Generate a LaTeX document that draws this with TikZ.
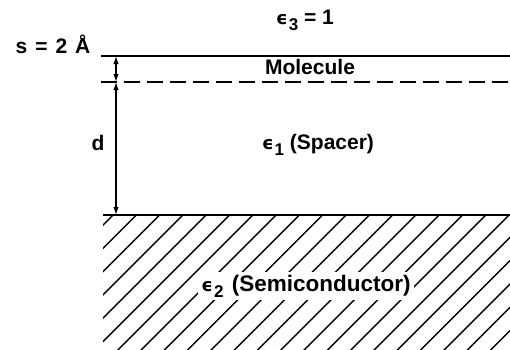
\documentclass[tikz,border=0pt]{standalone}
\usepackage{fontspec}
\setmainfont{Liberation Sans}
\newfontfamily\epsfont{DejaVu Sans}
\usetikzlibrary{arrows.meta}
\newcommand\epsi[1]{{\epsfont\fontsize{18}{18}\selectfont ϵ}\kern1pt\raisebox{-6pt}{\fontsize{17}{17}\selectfont #1}}
\tikzset{
  lbl/.style={font=\fontsize{21}{24}\selectfont\bfseries, inner sep=1pt, anchor=base},
  layerline/.style={line width=2.2pt},
  dashline/.style={line width=2pt, dash pattern=on 16pt off 7pt},
  hatchline/.style={line width=1.4pt},
  dimarrow/.style={{Latex[length=8pt,width=5.5pt]}-{Latex[length=8pt,width=5.5pt]}, line width=1.2pt}
}
\begin{document}
\begin{tikzpicture}[x=1pt,y=-1pt]
  \useasboundingbox (0,0) rectangle (510,349);
  % interfaces
  \coordinate (molL) at (101,56);
  \coordinate (molR) at (510,56);
  \coordinate (spL) at (101,82);
  \coordinate (spR) at (510,82);
  \coordinate (scL) at (103,215);
  \coordinate (scR) at (510,215);
  \coordinate (sTop) at (116,56);
  \coordinate (sBot) at (116,82);
  \coordinate (dBot) at (116,215);
  % semiconductor hatching
  \begin{scope}
    \clip (103,215) rectangle (510,349);
    \foreach \k in {0,...,23}
      \draw[hatchline] ({113+23.3*\k},215) -- ++(-140,140);
  \end{scope}
  \draw[layerline] (molL) -- (molR);
  \draw[dashline] (spL) -- (spR);
  \draw[layerline, line width=2.6pt] (scL) -- (scR);
  \draw[dimarrow] (sTop) -- (sBot);
  \draw[dimarrow] (sBot) -- (dBot);
  % labels
  \node[lbl] (vacuum) at (305,24) {\epsi{3} = 1};
  \node[lbl] (slabel) at (53,53) {s\hspace{8pt}=\hspace{8pt}2\hspace{8pt}Å};
  \node[lbl] (molecule) at (310,74) {Molecule};
  \node[lbl] (dlabel) at (98,150) {d};
  \node[lbl] (spacer) at (318,149) {\epsi{1} (Spacer)};
  \node[lbl, font=\fontsize{22.5}{24}\selectfont\bfseries, fill=white, inner sep=3pt] (semi) at (306,291) {\epsi{2}\hspace{2pt} (Semiconductor)};
\end{tikzpicture}
\end{document}
